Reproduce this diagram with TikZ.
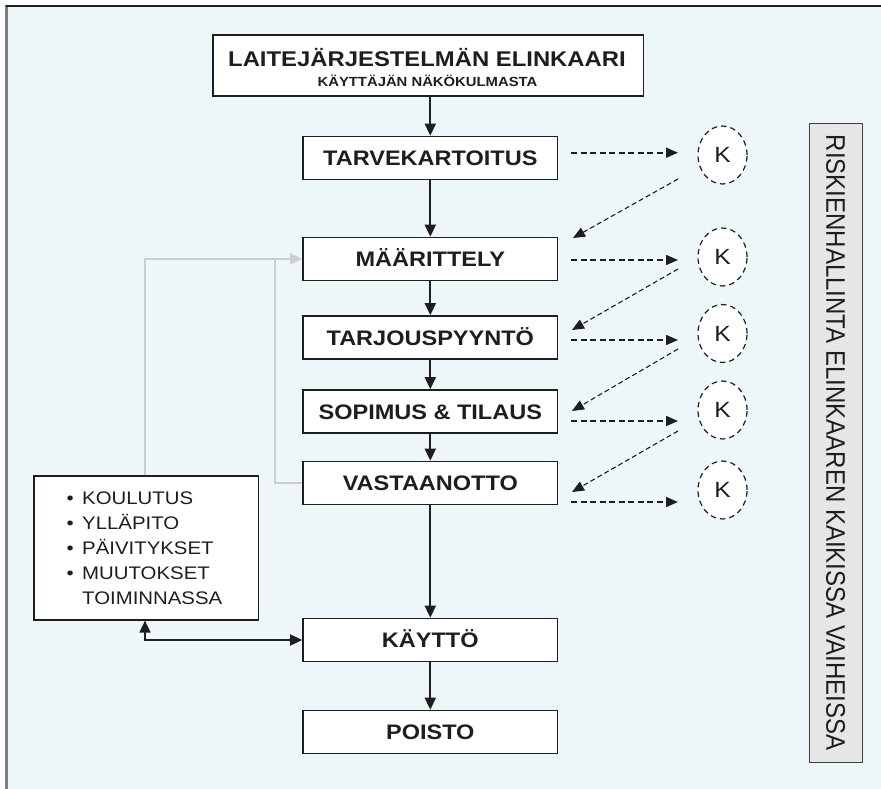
\documentclass[tikz,border=0pt]{standalone}
\usepackage{fontspec}
\setmainfont{Liberation Sans}[FakeStretch=1.12]
\newfontfamily\plainsans{Liberation Sans}
\usetikzlibrary{arrows.meta,shapes.geometric}
\definecolor{bgblue}{RGB}{237,246,248}
\definecolor{ink}{RGB}{30,30,30}
\definecolor{framegray}{RGB}{125,125,125}
\definecolor{linegray}{RGB}{205,205,205}
\definecolor{riskgray}{RGB}{230,230,230}
\begin{document}
\begin{tikzpicture}[x=1pt,y=-1pt,
  tip/.style={Triangle[length=12pt,width=11pt]},
  stage/.style={draw=ink, line width=1.6pt, fill=white, minimum width=254.7pt, minimum height=43pt,
    inner sep=0pt, text height=15pt, text depth=0pt, font=\bfseries\fontsize{21}{25}\selectfont, text=ink},
  flow/.style={draw=ink, line width=1.8pt, -{Triangle[length=12pt,width=11pt]}},
  biflow/.style={draw=ink, line width=1.6pt, {Triangle[length=12pt,width=11pt]}-{Triangle[length=12pt,width=11pt]}},
  grayline/.style={draw=linegray, line width=1.5pt},
  kcirc/.style={ellipse, draw=ink, dash pattern=on 5.5pt off 4pt, line width=1.2pt, fill=white,
    minimum width=49pt, minimum height=58pt, inner sep=0pt, text height=15.8pt, text depth=0pt,
    font=\fontsize{22}{22}\selectfont, text=ink},
  hdash/.style={draw=ink, line width=1.7pt, dash pattern=on 6pt off 3.5pt, -{Triangle[length=12pt,width=10pt]}},
  ddash/.style={draw=ink, line width=1.1pt, dash pattern=on 5pt off 3pt, -{Triangle[length=12pt,width=10pt]}},
  txt/.style={inner sep=0pt, text=ink, anchor=base west, font=\fontsize{18.2}{25}\selectfont}
]
\useasboundingbox (0,0) rectangle (881,789);
\fill[white] (0,0) rectangle (881,789);
\fill[bgblue] (6,6) rectangle (881,789);
\draw[framegray, line width=2.2pt] (6.5,5.5) -- (6.5,789);
\draw[ink, line width=1.3pt] (5.5,6) -- (881,6);

% title
\node[draw=ink, line width=1.6pt, fill=white, minimum width=430.6pt, minimum height=61pt, inner sep=0pt] (title) at (428,65.5) {};
\node[inner sep=0pt, anchor=base, text=ink, font=\bfseries\fontsize{21.3}{24}\selectfont] (t1) at (427,66.2) {LAITEJÄRJESTELMÄN ELINKAARI};
\node[inner sep=0pt, anchor=base, text=ink, font=\bfseries\fontsize{13.25}{15}\selectfont] (t2) at (427.5,86.7) {KÄYTTÄJÄN NÄKÖKULMASTA};

% stages
\node[stage] (tarve) at (430.3,158) {TARVEKARTOITUS};
\node[stage] (maar) at (430.3,259) {MÄÄRITTELY};
\node[stage] (tarj) at (430.3,337.5) {TARJOUSPYYNTÖ};
\node[stage] (sop) at (430.3,411.5) {SOPIMUS \& TILAUS};
\node[stage] (vast) at (430.3,483) {VASTAANOTTO};
\node[stage] (kaytto) at (430.3,640) {KÄYTTÖ};
\node[stage] (poisto) at (430.3,732) {POISTO};

\draw[flow] (tarve.north |- title.south) -- (tarve.north);
\draw[flow] (tarve) -- (maar);
\draw[flow] (maar) -- (tarj);
\draw[flow] (tarj) -- (sop);
\draw[flow] (sop) -- (vast);
\draw[flow] (vast) -- (kaytto);
\draw[flow] (kaytto) -- (poisto);

% care box
\node[draw=ink, line width=1.6pt, fill=white, minimum width=224.4pt, minimum height=144pt, inner sep=0pt, anchor=north west] (care) at (33.3,475) {};
\node[txt] (c1) at (66.5,504.8) {\makebox[15.5pt][l]{•}KOULUTUS};
\node[txt] (c2) at (66.5,529.8) {\makebox[15.5pt][l]{•}YLLÄPITO};
\node[txt] (c3) at (66.5,554.8) {\makebox[15.5pt][l]{•}PÄIVITYKSET};
\node[txt] (c4) at (66.5,579.8) {\makebox[15.5pt][l]{•}MUUTOKSET};
\node[txt] (c5) at (82,604.8) {TOIMINNASSA};

\draw[biflow] ([xshift=111.7pt]care.south west) |- (kaytto.west);

% gray feedback lines
\coordinate (gj) at ([xshift=-27pt]maar.west);
\draw[grayline] (vast.west) -| (gj);
\draw[grayline, -{Triangle[length=12pt,width=11pt]}] ([xshift=111.7pt]care.north west) |- (maar.west);

% K circles
\node[kcirc] (k1) at (722.5,155) {K};
\node[kcirc] (k2) at (722.5,257) {K};
\node[kcirc] (k3) at (722.5,333.5) {K};
\node[kcirc] (k4) at (722.5,410) {K};
\node[kcirc] (k5) at (722.5,490) {K};

% horizontal dashed arrows
\coordinate (a1) at (571,152.7); \coordinate (b1) at (678,152.7);
\coordinate (a2) at (571,260);   \coordinate (b2) at (678,260);
\coordinate (a3) at (571,340);   \coordinate (b3) at (678,340);
\coordinate (a4) at (571,421);   \coordinate (b4) at (678,421);
\coordinate (a5) at (571,502);   \coordinate (b5) at (678,502);
\draw[hdash] (a1) -- (b1);
\draw[hdash] (a2) -- (b2);
\draw[hdash] (a3) -- (b3);
\draw[hdash] (a4) -- (b4);
\draw[hdash] (a5) -- (b5);

% diagonal dashed arrows
\coordinate (d1) at (678,179); \coordinate (e1) at (573,238);
\coordinate (d2) at (678,269); \coordinate (e2) at (572,330);
\coordinate (d3) at (678,349); \coordinate (e3) at (572,411);
\coordinate (d4) at (678,431); \coordinate (e4) at (572,492);
\draw[ddash] (d1) -- (e1);
\draw[ddash] (d2) -- (e2);
\draw[ddash] (d3) -- (e3);
\draw[ddash] (d4) -- (e4);

% risk box
\node[draw=ink!85, line width=1.3pt, fill=riskgray, minimum width=53pt, minimum height=639pt, inner sep=0pt] (risk) at (835.8,442.8) {};
\node[rotate=-90, inner sep=0pt, text=ink, font=\plainsans\fontsize{24}{24}\selectfont] (risktext) at (835.5,442.5) {\scalebox{1}[1.12]{RISKIENHALLINTA ELINKAAREN KAIKISSA VAIHEISSA}};
\end{tikzpicture}
\end{document}
